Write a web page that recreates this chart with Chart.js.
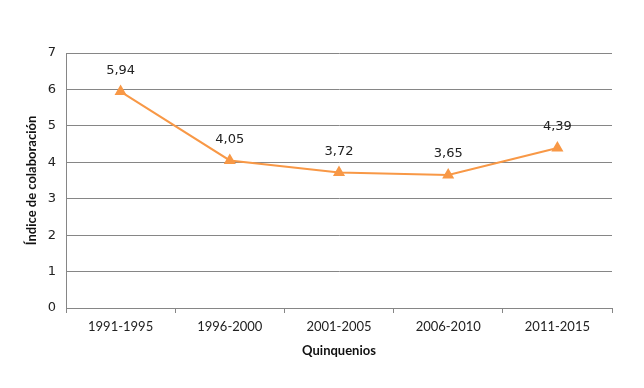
<!DOCTYPE html>
<html>
<head>
<meta charset="utf-8">
<script src="https://cdn.jsdelivr.net/npm/chart.js@4/dist/chart.umd.min.js"></script>
<style>
  html, body { margin: 0; padding: 0; background: #fff; }
  #wrap { width: 644px; height: 388px; }
</style>
</head>
<body>
<div id="wrap"><canvas id="myChart" width="644" height="388"></canvas></div>
<script>
// Datos
const quinquenios = ['1991-1995', '1996-2000', '2001-2005', '2006-2010', '2011-2015']
const indice = [5.94, 4.05, 3.72, 3.65, 4.39]
const etiquetas = ['5,94', '4,05', '3,72', '3,65', '4,39']

// etiquetas sobre cada punto
const etiquetasPlugin = {
  id: 'etiquetas',
  afterDatasetsDraw(chart) {
    const ctx = chart.ctx
    const meta = chart.getDatasetMeta(0)
    ctx.save()
    ctx.font = '13px "DejaVu Sans"'
    ctx.fillStyle = '#222'
    ctx.textAlign = 'center'
    ctx.textBaseline = 'middle'
    meta.data.forEach((pt, i) => {
      ctx.fillText(etiquetas[i], pt.x, pt.y - 21)
    })
    ctx.restore()
  }
}

const ctx = document.getElementById('myChart')
const myChart = new Chart(ctx, {
  type: 'line',
  data: {
    labels: quinquenios,
    datasets: [{
      data: indice,
      borderColor: '#F89846',
      backgroundColor: '#F89846',
      borderWidth: 2,
      pointStyle: 'triangle',
      pointRadius: 5,
      pointBackgroundColor: '#F89846',
      pointBorderColor: '#F89846',
      tension: 0
    }]
  },
  options: {
    responsive: false,
    animation: false,
    layout: {
      padding: { top: 53, right: 32, left: 20, bottom: 29 }
    },
    plugins: {
      legend: { display: false },
      tooltip: { enabled: false }
    },
    scales: {
      x: {
        offset: true,
        grid: {
          offset: true,
          drawOnChartArea: false,
          color: '#868686',
          tickLength: 5
        },
        border: { color: '#868686' },
        ticks: {
          color: '#222',
          font: { family: 'Lato', size: 13 },
          padding: 6,
          maxRotation: 0
        },
        title: {
          display: true,
          text: 'Quinquenios',
          color: '#111',
          font: { family: 'Lato', size: 13, weight: 'bold' },
          padding: { top: 4, bottom: 0 }
        },
        afterFit(scale) { scale.height = 51 }
      },
      y: {
        min: 0,
        max: 7,
        ticks: {
          stepSize: 1,
          color: '#222',
          font: { family: 'DejaVu Sans', size: 13 },
          padding: 10
        },
        grid: {
          color: '#868686',
          tickLength: 0
        },
        border: { color: '#868686' },
        title: {
          display: true,
          text: 'Índice de colaboración',
          color: '#111',
          font: { family: 'Lato', size: 13, weight: 'bold' },
          padding: { top: 4, bottom: 4 }
        },
        afterFit(scale) { scale.width = 46 }
      }
    }
  },
  plugins: [etiquetasPlugin]
})
</script>
</body>
</html>
